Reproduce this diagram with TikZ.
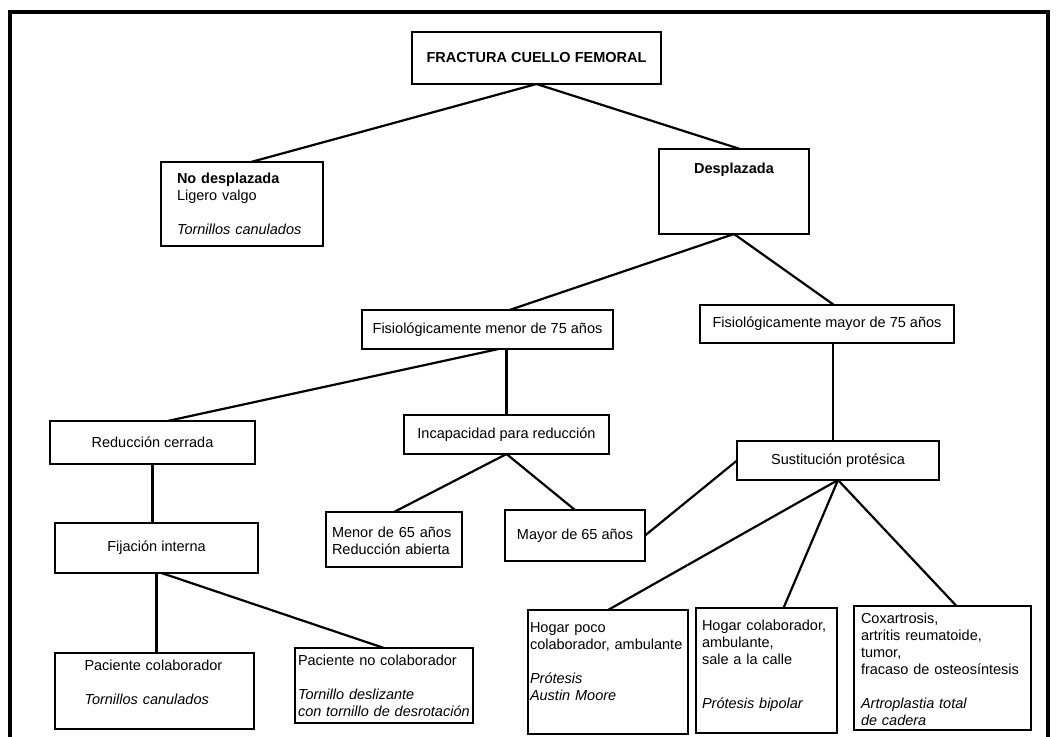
\documentclass[tikz,border=0pt]{standalone}
\usepackage{fontspec}
\setmainfont{Liberation Sans}
\usepackage{tikz}
\usetikzlibrary{calc,positioning}

\tikzset{
	caja/.style={draw, line width=2.1pt, anchor=north west, inner sep=0pt, outer sep=0pt},
	rama/.style={line width=2.2pt},
}

\begin{document}
\begin{tikzpicture}[x=1pt, y=-1pt, font=\fontsize{14.5}{17}\selectfont]
		\useasboundingbox (0,0) rectangle (1056,736);
		\draw[line width=3.8pt] (10,12) rectangle (1048,760);
		\node[caja, minimum width=249pt, minimum height=52pt] (frac) at (412,32) {\textbf{FRACTURA CUELLO FEMORAL}};
		\node[caja, text width=130pt, inner xsep=16pt, align=left, text height=21pt, text depth=63pt] (nodesp) at (161,162) {\textbf{No desplazada}\\Ligero valgo\\[17pt]\textit{Tornillos canulados}};
		\node[caja, text width=130pt, inner xsep=10pt, align=center, text height=24pt, text depth=61pt] (desp) at (659,149) {\textbf{Desplazada}};
		\node[caja, minimum width=251pt, minimum height=39pt] (menor75) at (362,310) {Fisiológicamente menor de 75 años};
		\node[caja, minimum width=254pt, minimum height=38pt] (mayor75) at (700,305) {Fisiológicamente mayor de 75 años};
		\node[caja, minimum width=205pt, minimum height=43pt] (reduc) at (50,421) {Reducción cerrada};
		\node[caja, minimum width=205pt, minimum height=39pt] (incap) at (404,415) {Incapacidad para reducción};
		\node[caja, minimum width=202pt, minimum height=39pt] (sust) at (737,441) {Sustitución protésica};
		\node[caja, minimum width=203pt, minimum height=50pt] (fija) at (55,523) {Fijación interna};
		\node[caja, text width=124pt, inner xsep=6pt, align=left, text height=25pt, text depth=30pt] (menor65) at (326,512) {Menor de 65 años\\Reducción abierta};
		\node[caja, minimum width=140pt, minimum height=51pt] (mayor65) at (505,510) {Mayor de 65 años};
		\node[caja, text width=140pt, inner xsep=29.5pt, align=left, text height=17pt, text depth=59pt] (pcol) at (55,653) {Paciente colaborador\\[17pt]\textit{Tornillos canulados}};
		\node[caja, text width=172pt, inner xsep=3pt, align=left, text height=17pt, text depth=58pt] (pnocol) at (295,648) {Paciente no colaborador\\[17pt]\textit{Tornillo deslizante}\\\textit{con tornillo de desrotación}};
		\node[caja, text width=156pt, inner xsep=2pt, align=left, text height=22pt, text depth=102pt] (hpoco) at (528,610) {Hogar poco\\colaborador, ambulante\\[17pt]\textit{Prótesis}\\\textit{Austin Moore}};
		\node[caja, text width=129pt, inner xsep=6pt, align=left, text height=22pt, text depth=103pt] (hcol) at (696,608) {Hogar colaborador,\\ambulante,\\sale a la calle\\[27pt]\textit{Prótesis bipolar}};
		\node[caja, text width=163pt, inner xsep=7pt, align=left, text height=17pt, text depth=107pt] (coxa) at (854,606) {Coxartrosis,\\artritis reumatoide,\\tumor,\\fracaso de osteosíntesis\\[17pt]\textit{Artroplastia total}\\\textit{de cadera}};
		\draw[rama] (frac.south) -- ([xshift=9pt]nodesp.north);
		\draw[rama] (frac.south) -- ([xshift=6pt]desp.north);
		\draw[rama] (desp.south) -- ([xshift=22pt]menor75.north);
		\draw[rama] (desp.south) -- ([xshift=7pt]mayor75.north);
		\draw[rama] ([xshift=11pt]menor75.south) -- ([xshift=15pt]reduc.north);
		\draw[rama] (incap.north |- menor75.south) -- (incap.north);
		\draw[rama] ([xshift=6pt]mayor75.south) -- ([xshift=6pt]mayor75.south |- sust.north);
		\draw[rama] (reduc.south) -- (reduc.south |- fija.north);
		\draw[rama] (incap.south) -- (menor65.north);
		\draw[rama] (incap.south) -- (mayor65.north);
		\draw[rama] (sust.west) -- (mayor65.east);
		\draw[rama] (sust.south) -- (hpoco.north);
		\draw[rama] (sust.south) -- ([xshift=17pt]hcol.north);
		\draw[rama] (sust.south) -- ([xshift=14pt]coxa.north);
		\draw[rama] (fija.south) -- (fija.south |- pcol.north);
		\draw[rama] ([xshift=5pt]fija.south) -- (pnocol.north);
		\end{tikzpicture}
\end{document}
